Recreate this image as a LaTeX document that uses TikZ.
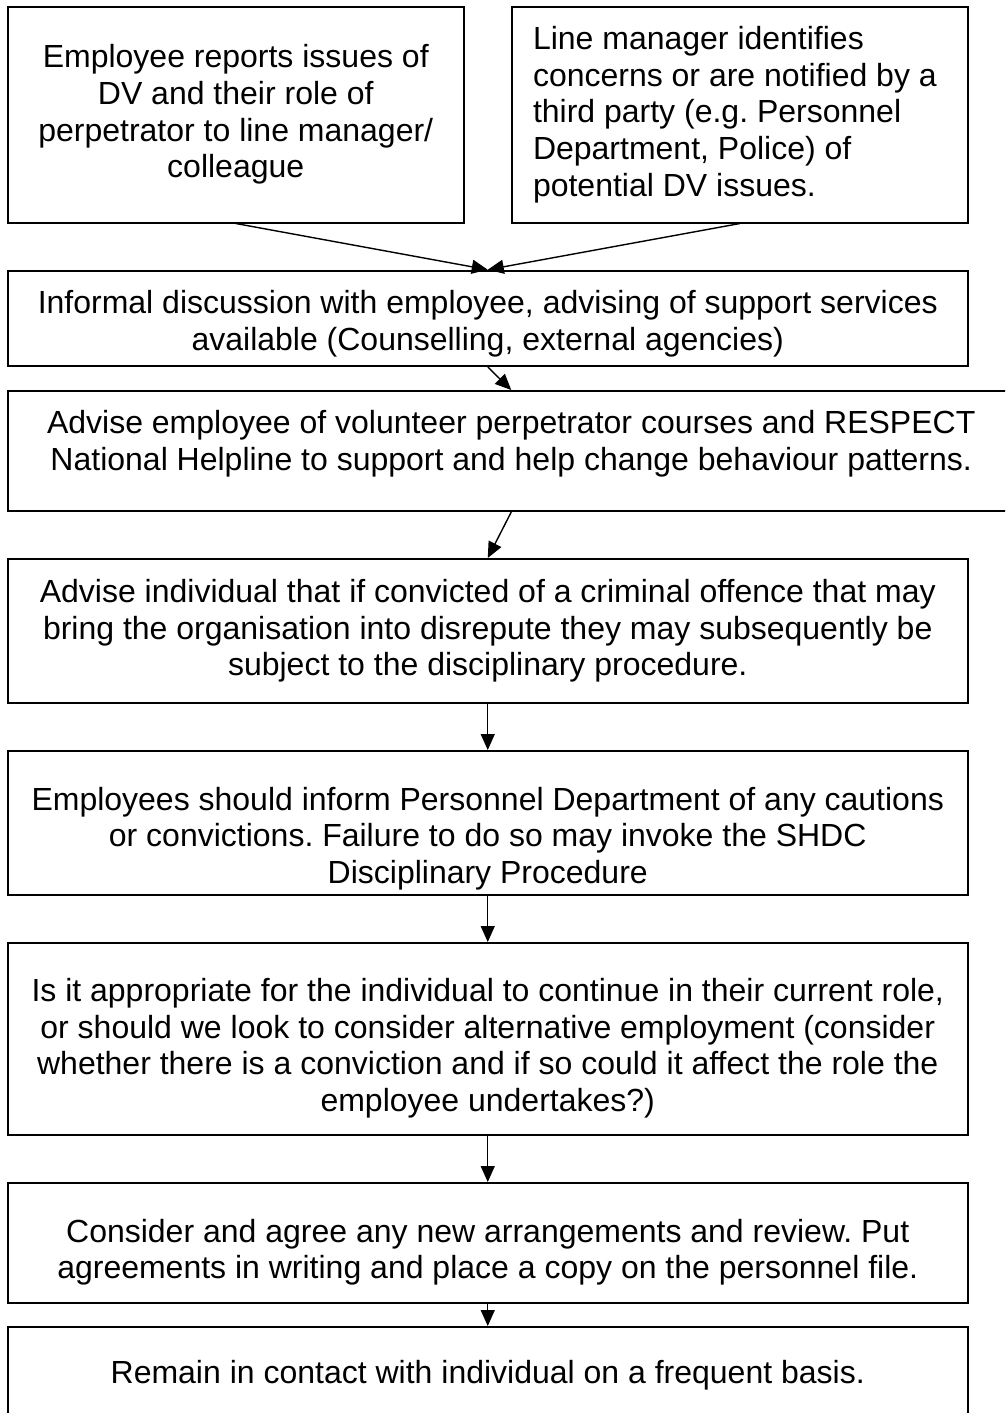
\documentclass[tikz,border=0pt]{standalone}
\usepackage{fontspec}
\setmainfont{Liberation Sans}
\usetikzlibrary{arrows.meta}
\frenchspacing

\begin{document}
\begin{tikzpicture}[x=1pt, y=-1pt,
        box/.style={draw, line width=2pt, inner sep=0pt, align=flush center, text width=940pt,
            minimum width=960.5pt, font=\fontsize{32}{36.6}\selectfont},
        drop/.style={execute at begin node={\rule{0pt}{#1}}},
        lift/.style={execute at end node={\rule[-#1]{0pt}{0pt}}},
        arr/.style={line width=1.4pt, -{Triangle[length=16pt,width=14pt]}}]
        \useasboundingbox (0,0) rectangle (1005,1413);
        \clip (0,0) rectangle (1005,1413);
        \node[box, text width=440pt, minimum width=456.5pt, minimum height=215.8pt] (report) at (235.75,114.6)
            {Employee reports issues of\\DV and their role of\\perpetrator to line manager/\\colleague};
        \node[box, text width=414pt, minimum width=456pt, minimum height=215.8pt, align=flush left] (notice) at (740,114.6)
            {Line manager identifies\\concerns or are notified by a\\third party (e.g. Personnel\\Department, Police) of\\potential DV issues.};
        \node[box, minimum height=95.3pt, drop=34pt] (talk) at (487.75,318.35)
            {Informal discussion with employee, advising of support services\\available (Counselling, external agencies)};
        \node[box, text width=990pt, minimum width=1007.5pt, minimum height=120pt, lift=21pt] (advise) at (511.25,451)
            {Advise employee of volunteer perpetrator courses and RESPECT\\National Helpline to support and help change behaviour patterns.};
        \node[box, minimum height=143.5pt] (warn) at (487.75,630.75)
            {Advise individual that if convicted of a criminal offence that may\\bring the organisation into disrepute they may subsequently be\\subject to the disciplinary procedure.};
        \node[box, minimum height=144pt, drop=54pt] (inform) at (487.75,823)
            {Employees should inform Personnel Department of any cautions\\or convictions. Failure to do so may invoke the SHDC\\Disciplinary Procedure};
        \node[box, minimum height=192pt, drop=42pt] (role) at (487.75,1039)
            {Is it appropriate for the individual to continue in their current role,\\or should we look to consider alternative employment (consider\\whether there is a conviction and if so could it affect the role the\\employee undertakes?)};
        \node[box, minimum height=120pt, drop=42pt] (agree) at (487.75,1243)
            {Consider and agree any new arrangements and review. Put\\agreements in writing and place a copy on the personnel file.};
        \node[box, minimum height=96pt] (contact) at (487.75,1375)
            {Remain in contact with individual on a frequent basis.};
        \draw[arr] (report.south) -- (talk.north);
        \draw[arr] (notice.south) -- (talk.north);
        \draw[arr] (talk.south) -- (advise.north);
        \draw[arr] (advise.south) -- (warn.north);
        \foreach \a/\b in {warn/inform, inform/role, role/agree, agree/contact}
            \draw[arr] (\a.south) -- (\b.north);
    \end{tikzpicture}
\end{document}
